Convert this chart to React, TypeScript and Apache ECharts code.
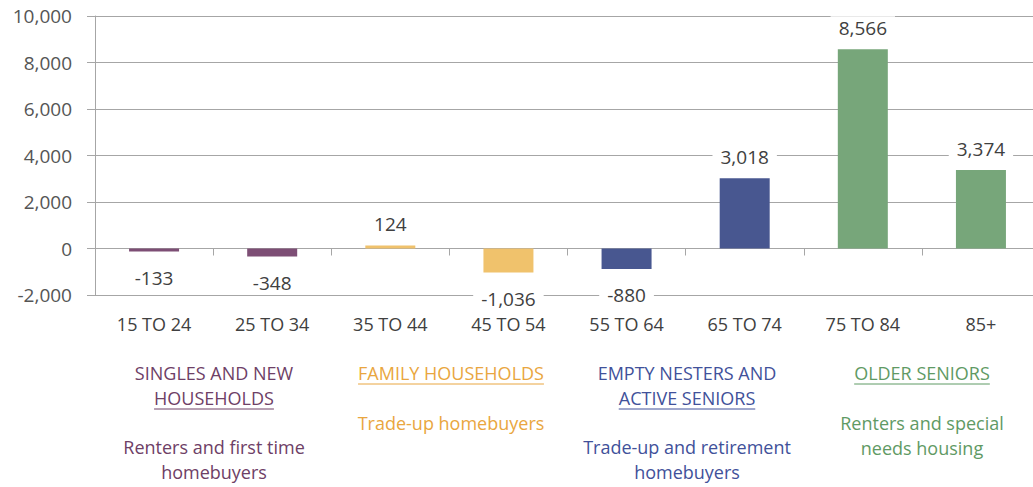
import React, { useEffect, useRef } from "react";
import * as echarts from "echarts";

const categories = ["15 TO 24", "25 TO 34", "35 TO 44", "45 TO 54", "55 TO 64", "65 TO 74", "75 TO 84", "85+"];
const values = [-133, -348, 124, -1036, -880, 3018, 8566, 3374];
const barColors = ["#7d4e75", "#7d4e75", "#f0c26c", "#f0c26c", "#485790", "#485790", "#77a67a", "#77a67a"];
const yTicks = { min: -2000, max: 10000, interval: 2000 };

const groupTitles = [["SINGLES AND NEW", "HOUSEHOLDS"], ["FAMILY HOUSEHOLDS"], ["EMPTY NESTERS AND", "ACTIVE SENIORS"], ["OLDER SENIORS"]];
const groupNotes = [["Renters and first time", "homebuyers"], ["Trade-up homebuyers"], ["Trade-up and retirement", "homebuyers"], ["Renters and special", "needs housing"]];
const groupColors = ["#6e4066", "#e9a640", "#41519a", "#5f9a64"];

const FONT = "'Open Sans', sans-serif";
const FS = 18;
const NFS = 19;

function measure(text: string, size: number): number {
  const c = document.createElement("canvas").getContext("2d");
  if (!c) return text.length * size * 0.55;
  c.font = `${size}px 'Open Sans'`;
  return c.measureText(text).width;
}

export default function App() {
  const ref = useRef<HTMLDivElement>(null);
  useEffect(() => {
    if (!ref.current) return;
    const chart = echarts.init(ref.current, undefined, { renderer: "svg" });

    const centers = [214, 451, 687, 922];
    const lineH = 25;
    const graphics: any[] = [];
    groupTitles.forEach((lines, gi) => {
      const x = centers[gi];
      const y0 = 373;
      lines.forEach((t, li) => {
        const y = y0 + li * lineH;
        graphics.push({
          type: "text",
          x,
          y,
          style: { text: t, fill: groupColors[gi], font: `${FS}px ${FONT}`, textAlign: "center", textVerticalAlign: "middle" },
        });
        if (li === lines.length - 1) {
          const w = measure(t, FS);
          graphics.push({
            type: "line",
            shape: { x1: x - w / 2, y1: y + 11, x2: x + w / 2, y2: y + 11 },
            style: { stroke: groupColors[gi], lineWidth: 1 },
          });
        }
      });
      const notes = groupNotes[gi];
      const ny0 = lines.length === 2 ? 447 : 423;
      notes.forEach((t, li) => {
        graphics.push({
          type: "text",
          x,
          y: ny0 + li * lineH,
          style: { text: t, fill: groupColors[gi], font: `${FS}px ${FONT}`, textAlign: "center", textVerticalAlign: "middle" },
        });
      });
    });

    chart.setOption({
      animation: false,
      grid: { left: 95, right: 0, top: 16, bottom: 192, containLabel: false },
      xAxis: [
        {
          type: "category",
          data: categories,
          axisLine: { show: true, onZero: true, lineStyle: { color: "#a6a6a6", width: 1 } },
          axisTick: { show: true, length: 7, lineStyle: { color: "#a6a6a6" } },
          axisLabel: { show: false },
        },
        {
          type: "category",
          data: categories,
          position: "bottom",
          axisLine: { show: false, onZero: false },
          axisTick: { show: false },
          axisLabel: { show: true, margin: 20, color: "#404040", fontSize: FS, fontFamily: FONT },
        },
      ],
      yAxis: {
        type: "value",
        min: yTicks.min,
        max: yTicks.max,
        interval: yTicks.interval,
        axisLine: { show: true, lineStyle: { color: "#a6a6a6" } },
        axisTick: { show: true, length: 8, lineStyle: { color: "#a6a6a6" } },
        splitLine: { show: true, lineStyle: { color: "#a6a6a6", width: 1 } },
        axisLabel: {
          margin: 23,
          color: "#555555",
          fontSize: NFS,
          fontFamily: FONT,
          formatter: (v: number) => v.toLocaleString("en-US"),
        },
      },
      series: [
        {
          type: "bar",
          xAxisIndex: 0,
          barWidth: 50,
          data: values.map((v, i) => ({
            value: v,
            itemStyle: { color: barColors[i] },
            label: { position: v < 0 ? "bottom" : "top", distance: v < 0 ? 15 : 10 },
          })),
          label: {
            show: true,
            color: "#404040",
            fontSize: NFS,
            fontFamily: FONT,
            backgroundColor: "#ffffff",
            padding: [2, 8],
            formatter: (p: any) => Number(p.value).toLocaleString("en-US"),
          },
        },
      ],
      graphic: graphics,
    });
    return () => chart.dispose();
  }, []);
  return (
    <div style={{ position: "absolute", left: 0, top: 0, width: 1033, height: 487, overflow: "hidden", background: "#fff" }}>
      <div ref={ref} style={{ width: 1040, height: 487 }} />
    </div>
  );
}
